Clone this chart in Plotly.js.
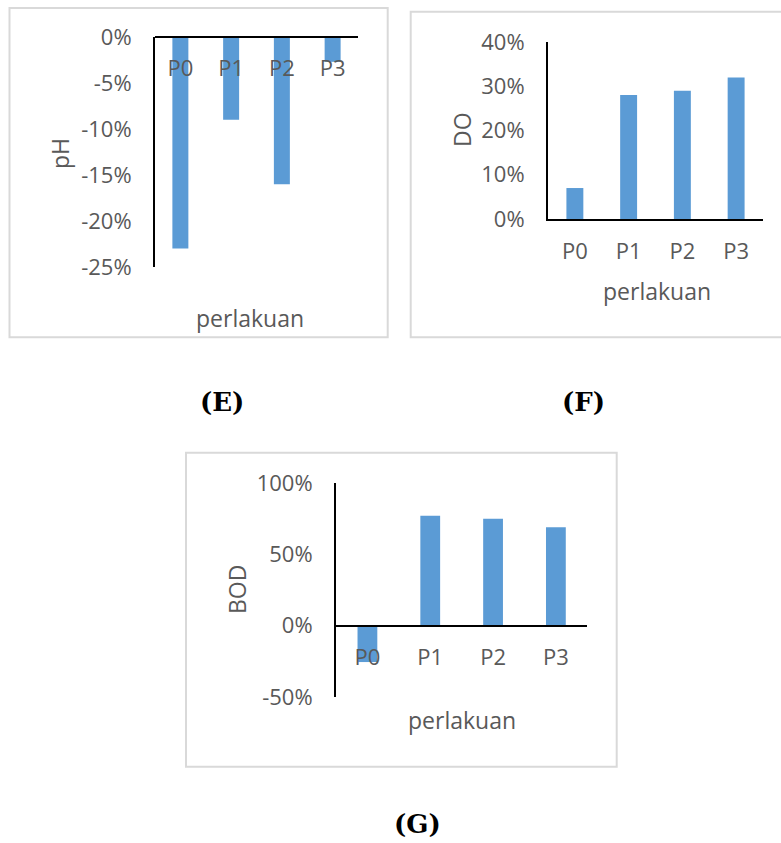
<!DOCTYPE html>
<html>
<head>
<meta charset="utf-8">
<script src="https://cdn.plot.ly/plotly-3.0.1.min.js"></script>
<style>
html,body{margin:0;padding:0;background:#fff;}
#chart{width:781px;height:843px;}
</style>
</head>
<body>
<div id="chart"></div>
<script>
// ---- data ----
const categories = ['P0', 'P1', 'P2', 'P3'];
const phValues  = [-0.23, -0.09, -0.16, -0.027];
const doValues  = [0.07, 0.28, 0.29, 0.32];
const bodValues = [-0.255, 0.77, 0.75, 0.69];

const phTickVals  = [0, -0.05, -0.10, -0.15, -0.20, -0.25];
const phTickText  = ['0%', '-5%', '-10%', '-15%', '-20%', '-25%'];
const doTickVals  = [0, 0.10, 0.20, 0.30, 0.40];
const doTickText  = ['0%', '10%', '20%', '30%', '40%'];
const bodTickVals = [-0.5, 0, 0.5, 1.0];
const bodTickText = ['-50%', '0%', '50%', '100%'];

const panelLabels = ['(E)', '(F)', '(G)'];
const yTitles = ['pH', 'DO', 'BOD'];
const xTitle = 'perlakuan';

// ---- layout helpers ----
const W = 781, H = 843;
const px = x => x / W;
const py = y => 1 - y / H;

const barColor = '#5b9bd5';
const textColor = '#595959';
const FONT = '"Open Sans", "Noto Sans", sans-serif';
const TICK = 22, TITLE = 23;

function yAx(domain, range, vals, text, anchor) {
  return {
    domain: domain, range: range, anchor: anchor,
    tickvals: vals, ticktext: text,
    showline: true, linecolor: '#000', linewidth: 2,
    showgrid: false, zeroline: false, ticks: '',
    ticklabelstandoff: 17,
    tickfont: {family: FONT, size: TICK, color: textColor},
    fixedrange: true
  };
}
function xAx(domain, extra) {
  return Object.assign({
    domain: domain, type: 'category',
    showline: true, linecolor: '#000', linewidth: 2,
    showgrid: false, zeroline: false, ticks: '',
    ticklabelstandoff: 12,
    tickfont: {family: FONT, size: TICK, color: textColor},
    fixedrange: true
  }, extra);
}

const yE = [py(267), py(37)];
const yF = [py(219), py(42)];
const yG = [py(697), py(483)];
const rG = [-0.5, 1.0];
const gZero = yG[0] + (0 - rG[0]) / (rG[1] - rG[0]) * (yG[1] - yG[0]);

const traces = [
  {type: 'bar', x: categories, y: phValues,  xaxis: 'x',  yaxis: 'y',  marker: {color: barColor}, hoverinfo: 'none'},
  {type: 'bar', x: categories, y: doValues,  xaxis: 'x2', yaxis: 'y2', marker: {color: barColor}, hoverinfo: 'none'},
  {type: 'bar', x: categories, y: bodValues, xaxis: 'x3', yaxis: 'y3', marker: {color: barColor}, hoverinfo: 'none'}
];

function box(x0, y0, x1, y1) {
  return {type: 'rect', xref: 'paper', yref: 'paper',
    x0: px(x0), x1: px(x1), y0: py(y1), y1: py(y0),
    line: {color: '#d9d9d9', width: 2}, fillcolor: 'rgba(0,0,0,0)', layer: 'below'};
}
function ann(text, x, y, size, opts) {
  return Object.assign({
    text: text, xref: 'paper', yref: 'paper', x: px(x), y: py(y),
    xanchor: 'center', yanchor: 'middle', showarrow: false,
    font: {family: FONT, size: size, color: textColor}
  }, opts || {});
}
const labelFont = {family: '"DejaVu Serif", serif', size: 26, color: '#000', weight: 'bold'};

const layout = {
  width: W, height: H,
  margin: {l: 0, r: 0, t: 0, b: 0},
  paper_bgcolor: '#fff', plot_bgcolor: 'rgba(0,0,0,0)',
  showlegend: false, bargap: 0.685,
  xaxis:  xAx([px(155), px(358)], {anchor: 'free', position: yE[1], side: 'bottom'}),
  yaxis:  yAx(yE, [-0.25, 0], phTickVals, phTickText, 'x'),
  xaxis2: xAx([px(548), px(763)], {anchor: 'y2'}),
  yaxis2: yAx(yF, [0, 0.40], doTickVals, doTickText, 'x2'),
  xaxis3: xAx([px(336), px(587.3)], {anchor: 'free', position: gZero, side: 'bottom'}),
  yaxis3: yAx(yG, rG, bodTickVals, bodTickText, 'x3'),
  shapes: [
    box(9.5, 8, 387.7, 337.3),
    box(410.7, 11.7, 795, 337.3),
    box(186, 452.7, 616.7, 766.7)
  ],
  annotations: [
    ann(yTitles[0], 60, 153, TITLE, {textangle: -90}),
    ann(yTitles[1], 462, 130, TITLE, {textangle: -90}),
    ann(yTitles[2], 237, 590, TITLE, {textangle: -90}),
    ann(xTitle, 250, 318, TITLE),
    ann(xTitle, 656.7, 291, TITLE),
    ann(xTitle, 461.7, 720, TITLE),
    ann('<b>' + panelLabels[0] + '</b>', 221.7, 402, 26, {font: labelFont}),
    ann('<b>' + panelLabels[1] + '</b>', 583, 402, 26, {font: labelFont}),
    ann('<b>' + panelLabels[2] + '</b>', 418, 824, 26, {font: labelFont})
  ]
};

Plotly.newPlot('chart', traces, layout, {staticPlot: true, displayModeBar: false});
</script>
</body>
</html>
